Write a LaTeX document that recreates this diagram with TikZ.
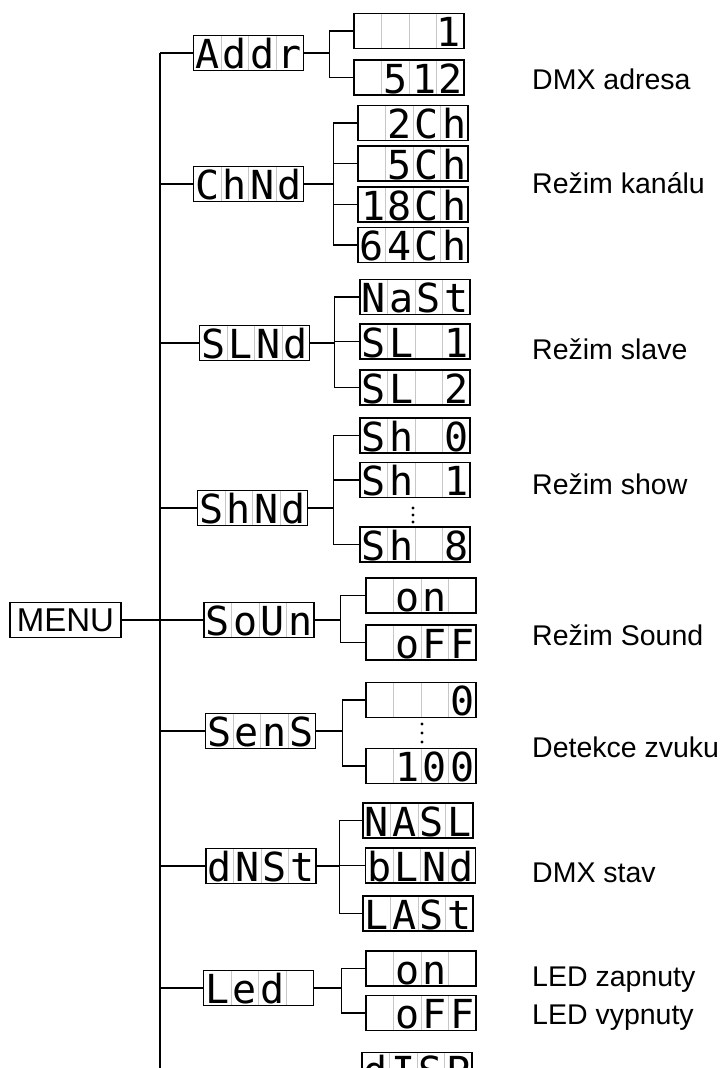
\documentclass[tikz,border=0pt]{standalone}
\usepackage{fontspec}
\setmainfont{Liberation Sans}
\newfontfamily\segfont{DejaVu Sans Mono}
\usepackage{tikz}
\usetikzlibrary{positioning, calc}

\newcommand{\cells}[4]{\makebox[27.5pt]{#1}\makebox[27.5pt]{#2}\makebox[27.5pt]{#3}\makebox[27.5pt]{#4}}

\begin{document}
\begin{tikzpicture}[
  x=1pt, y=-1pt,
  disp/.style={draw, line width=1.3pt, inner sep=0pt, minimum width=110pt,
               minimum height=35pt, text height=31pt, text depth=0pt,
               font=\segfont\fontsize{40}{40}\selectfont,
               path picture={\foreach \k in {1,2,3}
                 \draw[black!22, line width=0.8pt]
                   ($(path picture bounding box.north west)!\k/4!(path picture bounding box.north east)$) --
                   ($(path picture bounding box.south west)!\k/4!(path picture bounding box.south east)$);}},
  menubox/.style={draw, line width=1.3pt, inner sep=0pt, minimum width=111pt,
                  minimum height=35pt, font=\fontsize{33}{33}\selectfont},
  link/.style={line width=1.2pt},
  lbl/.style={anchor=base west, inner sep=0pt, font=\fontsize{28.5}{30}\selectfont},
  dot/.style={fill, circle, inner sep=0pt, minimum size=3.2pt}
]
\useasboundingbox (0,0) rectangle (728,1068);
\clip (0,0) rectangle (728,1068);

\node[menubox] (menu) at (65.5,620) {MENU};
\coordinate (trunktop) at (160,53);
\coordinate (trunkend) at (160,1070);

\node[disp] (addr) at (248.5,53) {\cells{A}{d}{d}{r}};
\node[disp] (chnd) at (248.5,184) {\cells{C}{h}{N}{d}};
\node[disp] (slnd) at (254.5,343) {\cells{S}{L}{N}{d}};
\node[disp] (shnd) at (252.5,508) {\cells{S}{h}{N}{d}};
\node[disp] (soun) at (259,620) {\cells{S}{o}{U}{n}};
\node[disp] (sens) at (260.5,731) {\cells{S}{e}{n}{S}};
\node[disp] (dnst) at (261,866) {\cells{d}{N}{S}{t}};
\node[disp] (led) at (258.5,988) {\cells{L}{e}{d}{}};

\node[disp] (adr1) at (409,31) {\cells{}{}{}{\hfill1\hspace{3pt}}};
\node[disp] (adr512) at (409,77.5) {\cells{}{5}{\hfill1}{2}};

\node[disp] (ch2) at (413,123) {\cells{}{2}{C}{h}};
\node[disp] (ch5) at (413,163.5) {\cells{}{5}{C}{h}};
\node[disp] (ch18) at (413,204.5) {\cells{\hfill1}{8}{C}{h}};
\node[disp] (ch64) at (413,245) {\cells{6}{4}{C}{h}};

\node[disp] (slmast) at (415,297) {\cells{N}{a}{S}{t}};
\node[disp] (slone) at (415,341.5) {\cells{S}{L}{}{1}};
\node[disp] (sltwo) at (415,387.5) {\cells{S}{L}{}{2}};

\node[disp] (sh0) at (415,435.5) {\cells{S}{h}{}{0}};
\node[disp] (sh1) at (415,480) {\cells{S}{h}{}{1}};
\coordinate (shdots) at (413,515);
\node[disp] (sh8) at (415,544.5) {\cells{S}{h}{}{8}};

\node[disp] (sndon) at (421,595.5) {\cells{}{o}{n}{}};
\node[disp] (sndoff) at (421,642.5) {\cells{}{o}{F}{F}};

\node[disp] (sens0) at (421,700) {\cells{}{}{}{0}};
\coordinate (sensdots) at (422,733);
\node[disp] (sens100) at (421,766) {\cells{}{1}{0}{0}};

\node[disp] (dmxnasl) at (418,820.5) {\cells{N}{A}{S}{L}};
\node[disp] (dmxblnd) at (420.5,865.5) {\cells{b}{L}{N}{d}};
\node[disp] (dmxlast) at (418,913.5) {\cells{L}{A}{S}{t}};

\node[disp] (ledon) at (421,968.5) {\cells{}{o}{n}{}};
\node[disp] (ledoff) at (421,1013) {\cells{}{o}{F}{F}};

\node[disp] (disp) at (417,1070) {\cells{d}{I}{S}{P}};
\coordinate (dispbr) at (336,1080);

\foreach \k in {-7,0,7} \node[dot] at ($(shdots)+(0,\k)$) {};
\foreach \k in {-9,0,9} \node[dot] at ($(sensdots)+(0,\k)$) {};

\draw[link] (trunktop) -- (trunkend);
\draw[link] (menu.east) -- (soun.west);
\foreach \n in {addr,chnd,slnd,shnd,sens,dnst,led}
  \draw[link] (\n.west) -- (\n.west -| trunktop);

\foreach \c in {adr1,adr512} \draw[link] (addr.east) -- ++(25,0) |- (\c.west);
\foreach \c in {ch2,ch5,ch18,ch64} \draw[link] (chnd.east) -- ++(29,0) |- (\c.west);
\foreach \c in {slmast,slone,sltwo} \draw[link] (slnd.east) -- ++(24,0) |- (\c.west);
\foreach \c in {sh0,sh1,sh8} \draw[link] (shnd.east) -- ++(25,0) |- (\c.west);
\foreach \c in {sndon,sndoff} \draw[link] (soun.east) -- ++(26,0) |- (\c.west);
\foreach \c in {sens0,sens100} \draw[link] (sens.east) -- ++(26,0) |- (\c.west);
\foreach \c in {dmxnasl,dmxblnd,dmxlast} \draw[link] (dnst.east) -- ++(23,0) |- (\c.west);
\foreach \c in {ledon,ledoff} \draw[link] (led.east) -- ++(27,0) |- (\c.west);
\draw[link] (disp.west) -| (dispbr);

\node[lbl] (lbladdr) at (532,89) {DMX adresa};
\node[lbl] (lblchnd) at (532,193) {Režim kanálu};
\node[lbl] (lblslnd) at (532,359) {Režim slave};
\node[lbl] (lblshnd) at (532,494) {Režim show};
\node[lbl] (lblsoun) at (532,645) {Režim Sound};
\node[lbl] (lblsens) at (532,757) {Detekce zvuku};
\node[lbl] (lbldnst) at (532,882) {DMX stav};
\node[lbl] (lblledon) at (532,986) {LED zapnuty};
\node[lbl] (lblledoff) at (532,1024) {LED vypnuty};
\end{tikzpicture}
\end{document}
